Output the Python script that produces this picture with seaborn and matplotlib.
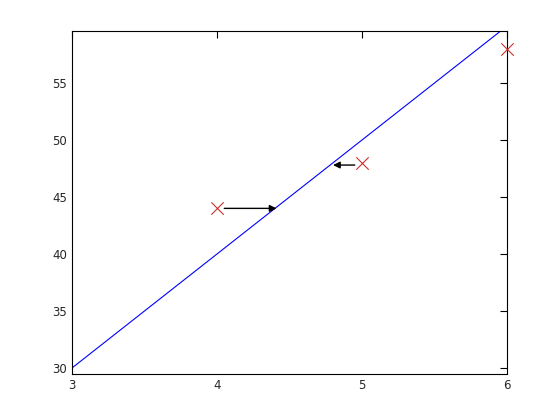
import matplotlib
matplotlib.use("Agg")
import matplotlib.pyplot as plt
import pandas as pd
import seaborn as sns

# fitted line
line_x = [3, 6]
line_y = [30, 60]

# observed points
pts_x = [4, 5, 6]
pts_y = [44, 48, 58]

# arrows (start -> end)
arrow_x0 = [4.05, 4.95]
arrow_x1 = [4.41, 4.80]
arrow_y = [44.0, 47.8]

sns.set_style("white")
plt.rcParams["font.family"] = ["DejaVu Sans"]

fig = plt.figure(figsize=(5.57, 4.2), dpi=100)
ax = fig.add_axes([0.1293, 0.1095, 0.7810, 0.8167])

sns.lineplot(x=line_x, y=line_y, ax=ax, color="blue", linewidth=0.8)
sns.scatterplot(
    data=pd.DataFrame({"x": pts_x, "y": pts_y}),
    x="x", y="y", ax=ax,
    marker="x", s=80, color="#cc3333", linewidth=0.8, clip_on=False, zorder=3,
)

for x0, x1, y in zip(arrow_x0, arrow_x1, arrow_y):
    ax.annotate(
        "", xy=(x1, y), xytext=(x0, y),
        arrowprops=dict(arrowstyle="-|>", color="black", lw=1.0,
                        mutation_scale=10, shrinkA=0, shrinkB=0),
    )

ax.set_xlim(3, 6)
ax.set_ylim(29.47, 59.56)
ax.set_xticks([3, 4, 5, 6])
ax.set_yticks([30, 35, 40, 45, 50, 55])
ax.set_xlabel("")
ax.set_ylabel("")
ax.tick_params(direction="in", top=True, right=True, length=5,
               labelsize=8.5, width=0.8, color="black")
for spine in ax.spines.values():
    spine.set_color("black")
    spine.set_linewidth(0.8)

fig.savefig("out.png", dpi=100)
